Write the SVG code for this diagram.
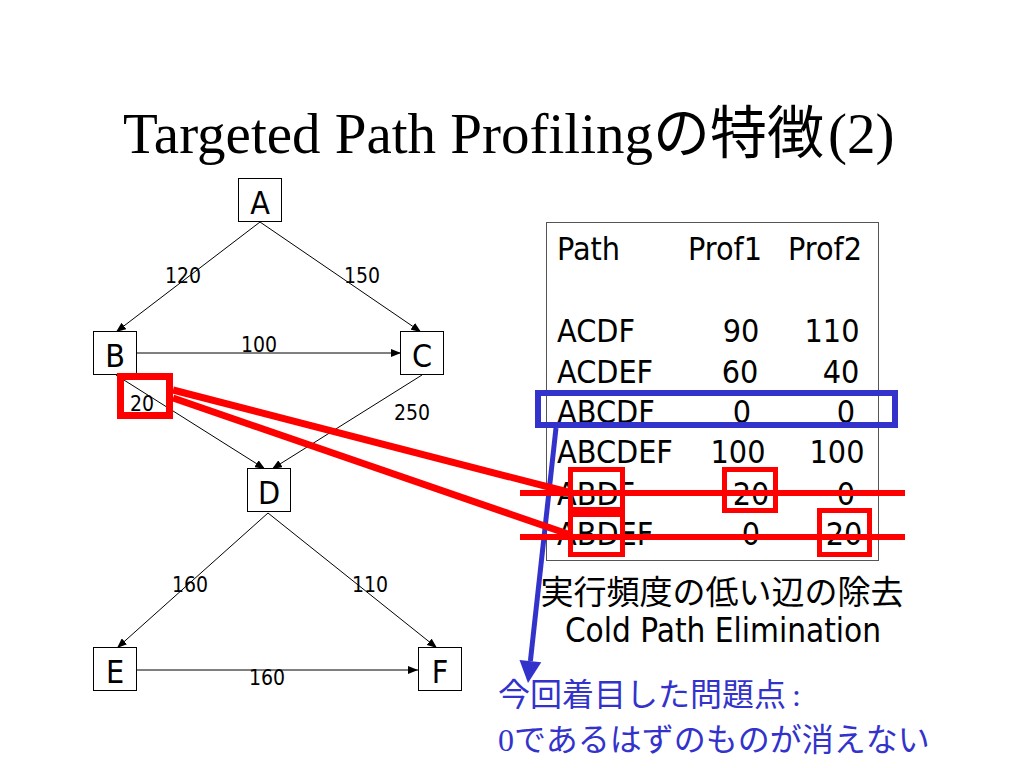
<svg xmlns="http://www.w3.org/2000/svg" width="1024" height="768" viewBox="0 0 1024 768">
<defs>
<style>
.sans{font-family:"DejaVu Sans Condensed","DejaVu Sans",sans-serif;fill:#000}
.node rect{fill:#fff;stroke:#000;stroke-width:1}
.node text{font-size:32px;text-anchor:middle}
.lbl{font-size:21px;text-anchor:middle}
.edge{stroke:#000;stroke-width:1;fill:none;marker-end:url(#ah)}
.tbl{font-size:32px}
.num{text-anchor:middle}
.cjk{font-family:"Noto Sans CJK JP",sans-serif}
.serif{font-family:"Liberation Serif","Noto Sans CJK JP",serif}
.red{stroke:#f00;fill:none}
.blue{stroke:#3333cc;fill:none}
</style>
<marker id="ah" markerUnits="userSpaceOnUse" markerWidth="10" markerHeight="8" refX="10" refY="4" orient="auto">
<path d="M0,0 L10,4 L0,8 z" fill="#000"/>
</marker>
</defs>
<rect width="1024" height="768" fill="#fff"/>

<text x="123" y="153" class="serif" font-size="57">Targeted Path Profiling<tspan class="cjk">の特徴</tspan><tspan class="serif" dx="4">(2)</tspan></text>

<g id="connectors">
<line class="edge" x1="260" y1="222" x2="116" y2="332"/>
<line class="edge" x1="260" y1="222" x2="421" y2="332"/>
<line class="edge" x1="137" y1="353" x2="401" y2="353"/>
<line class="edge" x1="116" y1="375" x2="265" y2="469"/>
<line class="edge" x1="422" y1="375" x2="272" y2="469"/>
<line class="edge" x1="268" y1="513" x2="117" y2="648"/>
<line class="edge" x1="268" y1="513" x2="437" y2="648"/>
<line class="edge" x1="137" y1="670" x2="418" y2="670"/>
<g class="sans lbl">
<text x="183" y="283">120</text>
<text x="362" y="283">150</text>
<text x="259" y="352">100</text>
<text x="142" y="411">20</text>
<text x="412" y="420">250</text>
<text x="190" y="592">160</text>
<text x="370" y="592">110</text>
<text x="267" y="685">160</text>
</g>
</g>

<g id="node-A" class="node sans"><rect x="238.5" y="178.5" width="43" height="43"/><text x="260" y="214">A</text></g>
<g id="node-B" class="node sans"><rect x="93.5" y="331.5" width="43" height="43"/><text x="115" y="367">B</text></g>
<g id="node-C" class="node sans"><rect x="400.5" y="331.5" width="43" height="43"/><text x="422" y="367">C</text></g>
<g id="node-D" class="node sans"><rect x="247.5" y="468.5" width="43" height="43"/><text x="269" y="504">D</text></g>
<g id="node-E" class="node sans"><rect x="93.5" y="647.5" width="43" height="43"/><text x="115" y="683">E</text></g>
<g id="node-F" class="node sans"><rect x="418.5" y="647.5" width="43" height="43"/><text x="440" y="683">F</text></g>

<g id="table" class="sans tbl">
<rect x="546.5" y="222.5" width="332" height="338" fill="#fff" stroke="#555" stroke-width="1"/>
<text x="557" y="260">Path</text>
<text x="688" y="260">Prof1</text>
<text x="788" y="260">Prof2</text>
<text x="557" y="342">ACDF</text>
<text x="557" y="383">ACDEF</text>
<text x="557" y="423">ABCDF</text>
<text x="557" y="463">ABCDEF</text>
<text x="557" y="505">ABDF</text>
<text x="557" y="545">ABDEF</text>
<g class="num">
<text x="741" y="342">90</text>
<text x="740" y="383">60</text>
<text x="742" y="423">0</text>
<text x="738" y="463">100</text>
<text x="751" y="505">20</text>
<text x="751" y="545">0</text>
<text x="832" y="342">110</text>
<text x="841" y="383">40</text>
<text x="846" y="423">0</text>
<text x="837" y="463">100</text>
<text x="846" y="505">0</text>
<text x="844" y="545">20</text>
</g>
</g>

<g id="caption">
<text x="722" y="604" class="cjk" font-size="33" text-anchor="middle">実行頻度の低い辺の除去</text>
<text x="723" y="642" class="sans" font-size="33" text-anchor="middle">Cold Path Elimination</text>
</g>

<g id="highlight-blue">
<rect class="blue" x="538" y="393" width="357" height="32" stroke-width="6"/>
<line class="blue" x1="556" y1="428" x2="530.4" y2="661" stroke-width="5"/>
<polygon points="528,683 541.3,662.3 519.5,659.9" fill="#3333cc"/>
</g>

<g id="highlight-red">
<rect class="red" x="120.5" y="376.5" width="49" height="39" stroke-width="7"/>
<line class="red" x1="173" y1="390" x2="568" y2="492" stroke-width="7"/>
<line class="red" x1="173" y1="398" x2="568" y2="534" stroke-width="7"/>
<line class="red" x1="520" y1="493" x2="905" y2="493" stroke-width="6"/>
<line class="red" x1="520" y1="537" x2="905" y2="537" stroke-width="6"/>
<rect class="red" x="570.5" y="469.5" width="52" height="40" stroke-width="5"/>
<rect class="red" x="570.5" y="514.5" width="52" height="40" stroke-width="5"/>
<rect class="red" x="724.5" y="469.5" width="51" height="41" stroke-width="5"/>
<rect class="red" x="819.5" y="510.5" width="50" height="44" stroke-width="5"/>
</g>

<g id="note" fill="#3333cc" font-size="32">
<text x="498" y="706" class="cjk" fill="#3333cc">今回着目した問題点<tspan class="serif" fill="#3333cc" dx="6">:</tspan></text>
<text x="498" y="751" class="cjk" fill="#3333cc"><tspan class="serif" fill="#3333cc">0</tspan>であるはずのものが消えない</text>
</g>
</svg>
